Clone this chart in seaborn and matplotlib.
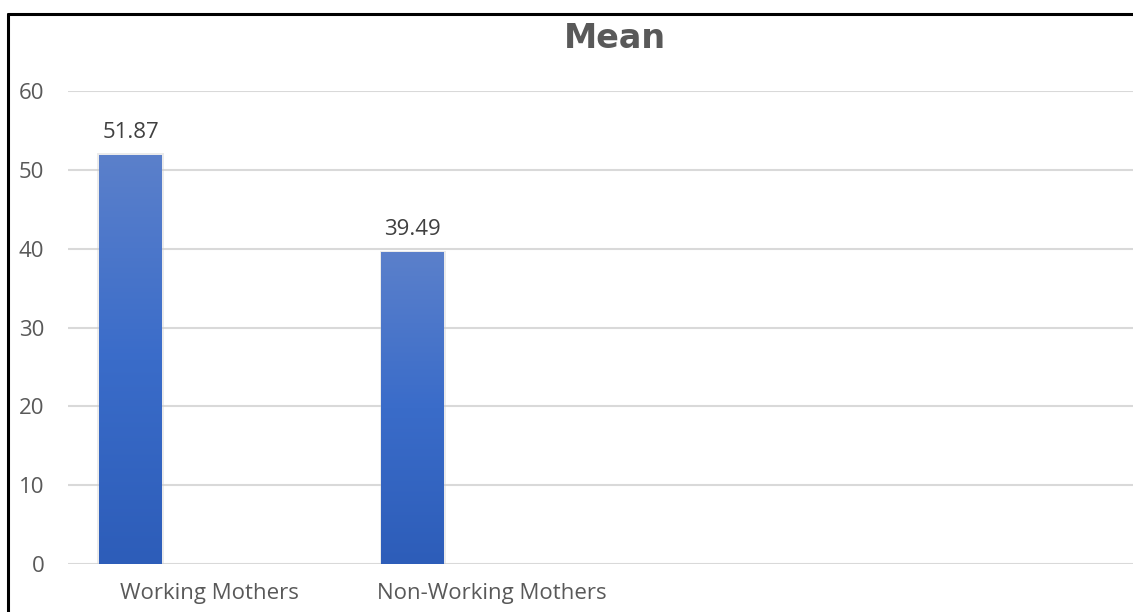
import numpy as np
import pandas as pd
import matplotlib
matplotlib.use("Agg")
import matplotlib.pyplot as plt
import seaborn as sns
from matplotlib.colors import LinearSegmentedColormap
from matplotlib.lines import Line2D

categories = ["Working Mothers", "Non-Working Mothers"]
means = [51.87, 39.49]
value_labels = ["51.87", "39.49"]
yticks = [0, 10, 20, 30, 40, 50, 60]
title = "Mean"

sns.set_theme(style="white")
plt.rcParams['font.family'] = ['Open Sans', 'DejaVu Sans']

W, H = 1133, 612
fig = plt.figure(figsize=(W / 100, H / 100), dpi=100)
ax = fig.add_axes([68 / W, 48 / H, 1 - 68 / W, (564 - 91) / H])

df = pd.DataFrame({"cat": categories, "mean": means})
sns.barplot(data=df, x="cat", y="mean", width=0.223, color="#3a6cc8",
            ax=ax, errorbar=None, zorder=3)

ax.set_ylim(0, 60)
ax.set_yticks(yticks)
off = 0.278
ax.set_xticks([i + off for i in range(len(categories))], categories)
xlim = (off - 0.5, off + (W - 210) / 282)

# gradient fill
cmap = LinearSegmentedColormap.from_list("g", ["#2d5db9", "#3a6cc9", "#5b80cb"])
grad = np.linspace(0, 1, 256).reshape(-1, 1)
bars = list(ax.patches)
for p in bars:
    x0, y0 = p.get_x(), p.get_y()
    w, h = p.get_width(), p.get_height()
    ax.imshow(grad, extent=[x0, x0 + w, y0, y0 + h], origin="lower",
              cmap=cmap, aspect="auto", zorder=3.5, clip_path=p)
    p.set_facecolor("none")
    p.set_edgecolor("none")
    # subtle soft shadow
    ax.bar(x0 + w / 2, h + 0.25, width=w + 0.012, color="#c8c8c8", alpha=0.35,
           zorder=2.9, linewidth=0)

for p, lab in zip(bars, value_labels):
    ax.annotate(lab, (p.get_x() + p.get_width() / 2, p.get_height()),
                xytext=(0, 9), textcoords="offset points", ha="center",
                va="bottom", fontsize=16, color="#404040")

ax.set_xlim(*xlim)
ax.set_ylim(0, 60)
ax.set_xlabel("")
ax.set_ylabel("")
sns.despine(ax=ax, left=True, bottom=True, top=True, right=True)
ax.yaxis.grid(True, color="#d9d9d9", linewidth=1.5, zorder=0)
ax.set_axisbelow(True)
ax.tick_params(axis="y", length=0, pad=17, labelsize=16, labelcolor="#595959")
ax.tick_params(axis="x", length=0, pad=14, labelsize=16, labelcolor="#595959")

fig.text(615 / W, (H - 38) / H, title, ha="center", va="center",
         fontsize=24, fontweight="bold", color="#595959", family="DejaVu Sans")

# outer chart border (left and top visible)
fig.add_artist(Line2D([7.5 / W, 7.5 / W], [-0.05, (H - 13.5) / H], color="black",
                      linewidth=2.2, transform=fig.transFigure))
fig.add_artist(Line2D([7.5 / W, 1.05], [(H - 13.5) / H, (H - 13.5) / H],
                      color="black", linewidth=2.2, transform=fig.transFigure))

fig.savefig("out.png", dpi=100, facecolor="white")
